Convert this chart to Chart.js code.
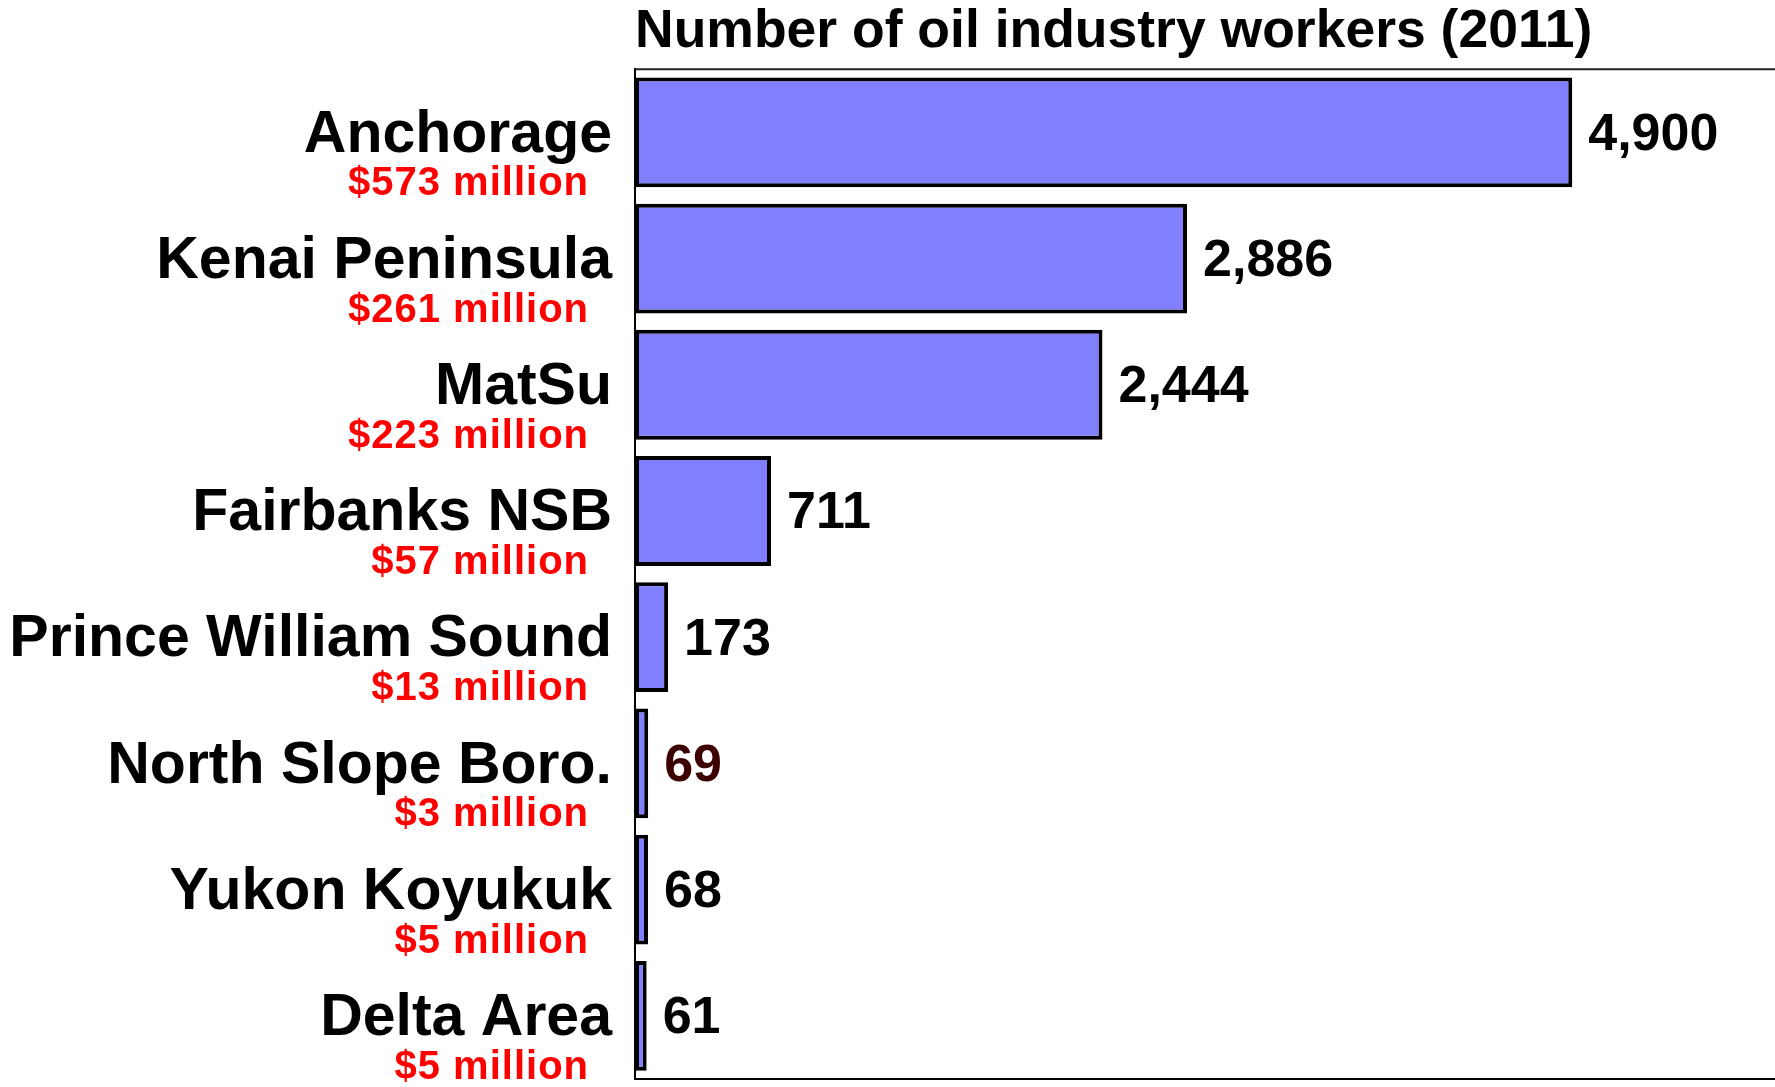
<!DOCTYPE html>
<html>
<head>
<meta charset="utf-8">
<script src="https://cdn.jsdelivr.net/npm/chart.js@4.4.1/dist/chart.umd.min.js"></script>
<style>
  html, body { margin: 0; padding: 0; background: #fff; }
  #wrap { width: 1775px; height: 1087px; position: relative; }
</style>
</head>
<body>
<div id="wrap"><canvas id="oilChart"></canvas></div>
<script>
// data
const regions = ["Anchorage", "Kenai Peninsula", "MatSu", "Fairbanks NSB",
                 "Prince William Sound", "North Slope Boro.", "Yukon Koyukuk", "Delta Area"];
const workers = [4900, 2886, 2444, 711, 173, 69, 68, 61];
const payrollMillions = [573, 261, 223, 57, 13, 3, 5, 5];

const FONT = '"Liberation Sans", Arial, sans-serif';
const valueColors = ["#000", "#000", "#000", "#000", "#000", "#3c0000", "#000", "#000"];

// draws the top frame line, the value labels and the red payroll lines
const extraLabels = {
    id: "extraLabels",
    afterDatasetsDraw(chart) {
        const ctx = chart.ctx;
        const area = chart.chartArea;
        const yScale = chart.scales.y;
        ctx.save();

        ctx.strokeStyle = "#222";
        ctx.lineWidth = 2;
        ctx.beginPath();
        ctx.moveTo(area.left, area.top);
        ctx.lineTo(area.right, area.top);
        ctx.stroke();

        const meta = chart.getDatasetMeta(0);
        ctx.font = "bold 52px " + FONT;
        ctx.textAlign = "left";
        ctx.textBaseline = "middle";
        meta.data.forEach((bar, i) => {
            ctx.fillStyle = valueColors[i];
            ctx.fillText(workers[i].toLocaleString("en-US"), bar.x + 16, bar.y + 3);
        });

        ctx.font = "bold 40px " + FONT;
        ctx.letterSpacing = "1px";
        ctx.fillStyle = "#ff0000";
        ctx.textAlign = "right";
        ctx.textBaseline = "alphabetic";
        payrollMillions.forEach((v, i) => {
            ctx.fillText("$" + v + " million", area.left - 46, yScale.getPixelForValue(i) + 63);
        });
        ctx.restore();
    }
};

new Chart(document.getElementById("oilChart"), {
    type: "bar",
    data: {
        labels: regions,
        datasets: [{
            label: "Number of oil industry workers (2011)",
            data: workers,
            backgroundColor: "#8080ff",
            borderColor: "#000",
            borderWidth: 4,
            borderSkipped: false,
            categoryPercentage: 1,
            barPercentage: 0.87
        }]
    },
    options: {
        indexAxis: "y",
        responsive: true,
        maintainAspectRatio: false,
        animation: false,
        layout: { padding: { top: 0, right: 0, bottom: 8, left: 0 } },
        plugins: {
            legend: { display: false },
            tooltip: { enabled: false },
            title: {
                display: true,
                text: "Number of oil industry workers (2011)",
                align: "start",
                fullSize: false,
                color: "#000",
                font: { family: FONT, size: 53.5, weight: "bold" },
                padding: { top: 0, bottom: 5 }
            }
        },
        scales: {
            x: {
                min: 0,
                max: 5960,
                ticks: { display: false },
                grid: { display: false, drawTicks: false },
                border: { display: true, color: "#000", width: 2 }
            },
            y: {
                ticks: {
                    color: "#000",
                    padding: 23,
                    labelOffset: 3,
                    font: { family: FONT, size: 59, weight: "bold" }
                },
                grid: { display: false, drawTicks: false },
                border: { display: true, color: "#000", width: 2 },
                afterFit(scale) {
                    scale.width = 635;
                    scale.paddingTop = 0;
                    scale.paddingBottom = 0;
                }
            }
        }
    },
    plugins: [extraLabels]
});
</script>
</body>
</html>
